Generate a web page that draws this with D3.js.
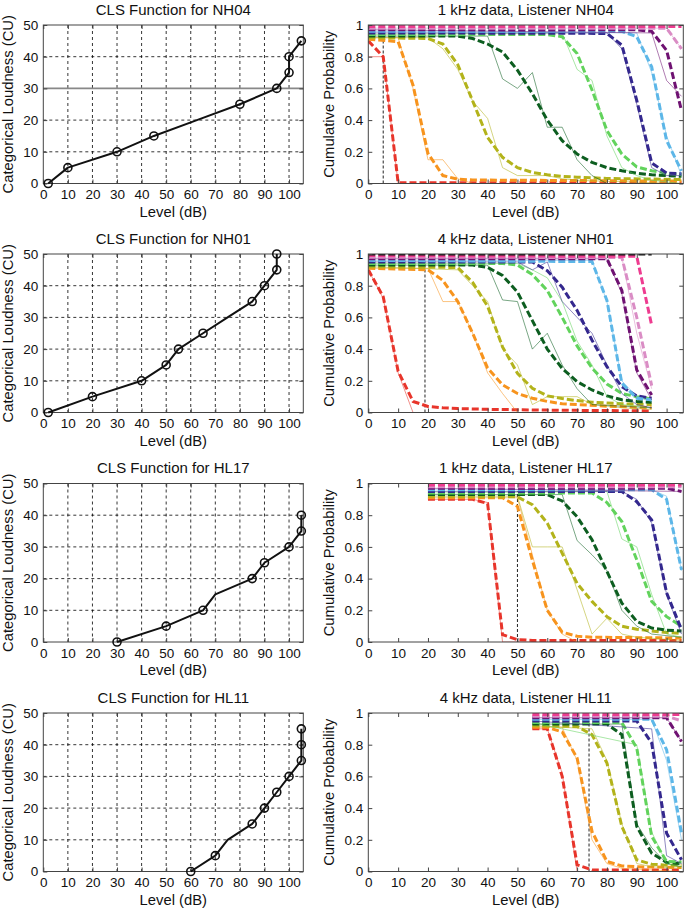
<!DOCTYPE html>
<html><head><meta charset="utf-8">
<script src="https://cdn.jsdelivr.net/npm/d3@7"></script>
<style>
body{margin:0;background:#fff}
svg{display:block}
text{font-family:"Liberation Sans",Arial,Helvetica,sans-serif;fill:#111}
</style>
</head><body><svg id="c" width="685" height="911"></svg>
<script>
// ---------- DATA ----------
const cuCategories = [0,5,10,15,20,25,30,35,40,45,50];
const catColors = ["#e8352b","#f7941e","#b3b31b","#0d5e20","#62d35c","#34288e","#5db7e8","#6f1272","#da8dc5","#ee3c90","#111111"];
const xTicksDb = [0,10,20,30,40,50,60,70,80,90,100];
const yTicksCU = [0,10,20,30,40,50];
const yTicksProb = [0,0.2,0.4,0.6,0.8,1];

const clsTitles = ["CLS Function for NH04","CLS Function for NH01","CLS Function for HL17","CLS Function for HL11"];
const probTitles = ["1 kHz data, Listener NH04","4 kHz data, Listener NH01","1 kHz data, Listener HL17","4 kHz data, Listener HL11"];

// CLS functions: [level dB, CU, marker(1/0)]
const clsNH04 = [[2,0,1],[10,5,1],[30,10,1],[45,15,1],[62.5,20,0],[80,25,1],[95,30,1],[100,35,1],[100,40,1],[105,45,1]];
const clsNH01 = [[2,0,1],[20,5,1],[40,10,1],[50,15,1],[55,20,1],[65,25,1],[75,30,0],[85,35,1],[90,40,1],[95,45,1],[95,50,1]];
const clsHL17 = [[30,0,1],[50,5,1],[65,10,1],[70,15,0],[85,20,1],[90,25,1],[100,30,1],[105,35,1],[105,40,1]];
const clsHL11 = [[60,0,1],[70,5,1],[75,10,0],[85,15,1],[90,20,1],[95,25,1],[100,30,1],[105,35,1],[105,40,1],[105,45,1]];

// vertical dashed marker level (dB)
const markerLevels = [5, 19, 50, 74];

// Model (dashed) cumulative probability curves, one per category: [level, p]
const fitNH04 = [
 [[0,0.9],[5,0.8],[10,0.005],[105,0.005]],
 [[0,0.91],[10,0.895],[15,0.62],[20,0.19],[25,0.05],[30,0.027],[35,0.022],[105,0.015]],
 [[0,0.92],[20,0.915],[25,0.88],[30,0.75],[35,0.52],[40,0.29],[45,0.165],[50,0.10],[55,0.07],[60,0.055],[65,0.045],[70,0.04],[80,0.032],[105,0.025]],
 [[0,0.93],[30,0.93],[35,0.915],[40,0.88],[45,0.83],[50,0.715],[55,0.567],[60,0.40],[65,0.27],[70,0.186],[75,0.133],[80,0.10],[85,0.08],[90,0.065],[95,0.055],[100,0.05],[105,0.045]],
 [[0,0.94],[60,0.94],[65,0.926],[70,0.82],[75,0.59],[80,0.334],[85,0.186],[90,0.105],[95,0.08],[100,0.065],[105,0.055]],
 [[0,0.95],[80,0.947],[85,0.873],[90,0.524],[95,0.13],[100,0.065],[105,0.062]],
 [[0,0.96],[85,0.96],[90,0.926],[95,0.736],[100,0.27],[105,0.08]],
 [[0,0.97],[90,0.97],[95,0.96],[100,0.84],[105,0.46]],
 [[0,0.98],[100,0.98],[105,0.85]],
 [[0,0.99],[105,0.99]],
 []
];
const rawNH04 = [
 [[0,0.8],[5,0.8],[10,0],[105,0]],
 [[0,0.92],[10,0.92],[15,0.6],[20,0.15],[25,0.15],[30,0.03],[35,0],[105,0]],
 [[0,0.92],[20,0.92],[25,0.85],[30,0.72],[35,0.52],[40,0.41],[45,0.1],[50,0.05],[60,0.05],[65,0.03],[70,0.02],[105,0]],
 [[0,0.93],[40,0.93],[45,0.66],[50,0.6],[55,0.7],[60,0.355],[65,0.355],[70,0.15],[75,0.05],[80,0],[105,0]],
 [[0,0.94],[65,0.95],[70,0.72],[75,0.65],[80,0.3],[85,0.1],[90,0.05],[95,0.02],[105,0]],
 [[0,0.95],[80,0.95],[85,0.85],[90,0.5],[95,0.1],[100,0.05],[105,0.05]],
 [[0,0.96],[90,0.95],[95,0.7],[100,0.3],[105,0.05]],
 [[0,0.97],[95,0.95],[100,0.65],[105,0.55]],
 [[0,0.98],[100,0.98],[105,0.85]],
 [], []
];

const fitNH01 = [
 [[0,0.9],[5,0.73],[10,0.26],[15,0.07],[20,0.038],[25,0.03],[30,0.025],[40,0.02],[60,0.015],[95,0.01]],
 [[0,0.91],[20,0.9],[25,0.833],[30,0.7],[35,0.5],[40,0.28],[45,0.175],[50,0.12],[55,0.09],[60,0.07],[65,0.055],[70,0.05],[80,0.04],[95,0.03]],
 [[0,0.92],[30,0.915],[35,0.82],[40,0.67],[45,0.414],[50,0.247],[55,0.153],[60,0.105],[65,0.088],[70,0.075],[75,0.065],[85,0.055],[95,0.05]],
 [[0,0.93],[35,0.93],[40,0.916],[45,0.864],[50,0.76],[55,0.58],[60,0.40],[65,0.278],[70,0.195],[75,0.142],[80,0.105],[85,0.08],[90,0.07],[95,0.065]],
 [[0,0.94],[45,0.94],[50,0.93],[55,0.87],[60,0.77],[65,0.6],[70,0.42],[75,0.28],[80,0.18],[85,0.12],[90,0.1],[95,0.085]],
 [[0,0.95],[55,0.95],[60,0.895],[65,0.79],[70,0.644],[75,0.456],[80,0.289],[85,0.163],[90,0.105],[95,0.09]],
 [[0,0.96],[75,0.952],[80,0.707],[85,0.184],[90,0.09],[95,0.08]],
 [[0,0.97],[80,0.97],[85,0.77],[90,0.268],[95,0.11]],
 [[0,0.98],[85,0.978],[90,0.6],[95,0.17]],
 [[0,0.99],[90,0.985],[95,0.55]],
 [[0,1.0],[95,1.0]]
];
const rawNH01 = [
 [[0,0.9],[5,0.72],[10,0.25],[15,0],[95,0]],
 [[0,0.91],[20,0.91],[25,0.7],[30,0.7],[35,0.5],[40,0.25],[45,0.12],[50,0],[95,0]],
 [[0,0.92],[30,0.9],[35,0.8],[40,0.7],[45,0.4],[50,0.3],[55,0.05],[60,0.1],[70,0.1],[75,0.05],[85,0.03],[95,0.02]],
 [[0,0.93],[40,0.93],[45,0.71],[50,0.7],[55,0.4],[60,0.5],[65,0.3],[70,0.15],[75,0.05],[95,0.03]],
 [[0,0.94],[50,0.94],[55,0.9],[60,0.85],[65,0.7],[70,0.45],[75,0.3],[80,0.1],[85,0.05],[95,0.03]],
 [[0,0.95],[50,0.95],[55,0.9],[60,0.95],[65,0.7],[70,0.6],[75,0.5],[80,0.3],[85,0.12],[90,0.05],[95,0.03]],
 [[0,0.96],[75,0.96],[80,0.7],[85,0.2],[90,0.1],[95,0.07]],
 [[0,0.97],[80,0.97],[85,0.75],[90,0.25],[95,0.08]],
 [[0,0.98],[85,0.98],[90,0.5],[95,0.15]],
 [], []
];

const fitHL17 = [
 [[20,0.9],[35,0.9],[40,0.874],[45,0.046],[50,0.015],[55,0.01],[105,0.01]],
 [[20,0.91],[45,0.91],[50,0.855],[55,0.516],[60,0.2],[65,0.062],[70,0.036],[75,0.03],[105,0.025]],
 [[20,0.92],[50,0.916],[55,0.866],[60,0.75],[65,0.56],[70,0.37],[75,0.256],[80,0.16],[85,0.1],[90,0.08],[95,0.07],[100,0.06],[105,0.055]],
 [[20,0.93],[60,0.93],[65,0.89],[70,0.79],[75,0.645],[80,0.445],[85,0.245],[90,0.13],[95,0.088],[100,0.075],[105,0.07]],
 [[20,0.94],[75,0.94],[80,0.88],[85,0.76],[90,0.518],[95,0.256],[100,0.16],[105,0.1]],
 [[20,0.95],[85,0.95],[90,0.885],[95,0.77],[100,0.31],[105,0.078]],
 [[20,0.96],[95,0.96],[100,0.9],[105,0.455]],
 [[20,0.97],[100,0.97],[105,0.95]],
 [[20,0.98],[105,0.98]],
 [[20,0.99],[105,0.99]],
 []
];
const rawHL17 = [
 [[20,0.9],[35,0.9],[40,0.88],[45,0],[105,0]],
 [[20,0.91],[50,0.91],[55,0.55],[60,0.2],[65,0.05],[70,0],[105,0]],
 [[20,0.92],[50,0.92],[55,0.6],[60,0.6],[65,0.6],[70,0.33],[75,0.05],[80,0.15],[85,0.05],[90,0.03],[105,0.01]],
 [[20,0.93],[65,0.93],[70,0.64],[75,0.55],[80,0.45],[85,0.2],[90,0.1],[95,0.05],[105,0.03]],
 [[20,0.94],[80,0.95],[85,0.65],[90,0.6],[95,0.3],[100,0.05],[105,0.03]],
 [[20,0.95],[85,0.95],[90,0.9],[95,0.75],[100,0.3],[105,0.05]],
 [[20,0.96],[95,0.96],[100,0.92],[105,0.45]],
 [[20,0.97],[105,0.95]],
 [], [], []
];

const fitHL11 = [
 [[55,0.9],[60,0.9],[65,0.6],[70,0.042],[75,0.01],[105,0.01]],
 [[55,0.91],[60,0.91],[65,0.88],[70,0.716],[75,0.253],[80,0.063],[85,0.035],[90,0.03],[105,0.025]],
 [[55,0.92],[70,0.915],[75,0.863],[80,0.684],[85,0.284],[90,0.074],[95,0.046],[100,0.04],[105,0.04]],
 [[55,0.93],[80,0.93],[85,0.863],[90,0.284],[95,0.116],[100,0.057],[105,0.05]],
 [[55,0.94],[85,0.94],[90,0.779],[95,0.221],[100,0.063],[105,0.06]],
 [[55,0.95],[90,0.95],[95,0.81],[100,0.242],[105,0.074]],
 [[55,0.96],[95,0.96],[100,0.768],[105,0.242]],
 [[55,0.97],[100,0.97],[105,0.82]],
 [[55,0.98],[100,0.98],[105,0.95]],
 [[55,0.99],[105,0.99]],
 []
];
const rawHL11 = [
 [[55,0.9],[60,0.9],[65,0.62],[70,0],[105,0]],
 [[55,0.91],[65,0.91],[70,0.7],[75,0.2],[80,0.05],[85,0.02],[105,0]],
 [[55,0.92],[75,0.9],[80,0.7],[85,0.3],[90,0.05],[95,0.03],[105,0.02]],
 [[55,0.93],[85,0.93],[90,0.3],[95,0.15],[100,0.05],[105,0.03]],
 [[55,0.94],[90,0.8],[95,0.25],[100,0.05],[105,0.03]],
 [[55,0.95],[95,0.9],[100,0.1],[105,0.05]],
 [[55,0.96],[95,0.96],[100,0.7],[105,0.2]],
 [[55,0.97],[100,0.97],[105,0.82]],
 [], [], []
];

const clsData = [clsNH04, clsNH01, clsHL17, clsHL11];
const fitData = [fitNH04, fitNH01, fitHL17, fitHL11];
const rawData = [rawNH04, rawNH01, rawHL17, rawHL11];

// ---------- LAYOUT ----------
const rowTops = [25, 254, 483.5, 713];
const rowH = 158.5;
const L0 = 43.3, L1 = 303.3, R0 = 368.3, R1 = 683.3;
const tickFont = 13.5, titleFont = 15, labelFont = 14.8;
const FONT = '"Liberation Sans",Arial,Helvetica,sans-serif';
const svg = d3.select("#c");

function drawAxes(g, x, y, yFmt) {
  const top = y.range()[1], bot = y.range()[0], l = x.range()[0], r = x.range()[1];
  const style = s => { s.select(".domain").remove(); s.attr("font-size", tickFont).attr("font-family", FONT);
    s.selectAll(".tick line").attr("stroke", "#444"); s.selectAll(".tick text").attr("fill", "#111"); };
  const yt = y.domain()[1] === 1 ? yTicksProb : yTicksCU;
  g.append("g").attr("transform", `translate(0,${bot})`)
    .call(d3.axisBottom(x).tickValues(xTicksDb).tickSizeInner(-4).tickSizeOuter(0).tickPadding(6).tickFormat(d3.format("d"))).call(style);
  g.append("g").attr("transform", `translate(0,${top})`)
    .call(d3.axisTop(x).tickValues(xTicksDb).tickSizeInner(-4).tickSizeOuter(0).tickFormat("")).call(style);
  g.append("g").attr("transform", `translate(${l},0)`)
    .call(d3.axisLeft(y).tickValues(yt).tickSizeInner(-4).tickSizeOuter(0).tickPadding(5).tickFormat(yFmt)).call(style);
  g.append("g").attr("transform", `translate(${r},0)`)
    .call(d3.axisRight(y).tickValues(yt).tickSizeInner(-4).tickSizeOuter(0).tickFormat("")).call(style);
  g.append("rect").attr("x", l).attr("y", top).attr("width", r - l).attr("height", bot - top)
    .attr("fill", "none").attr("stroke", "#444").attr("stroke-width", 1);
}

function labels(g, x, y, title, ylabel, ylx) {
  const top = y.range()[1], bot = y.range()[0], l = x.range()[0], r = x.range()[1];
  g.append("text").attr("x", (l + r) / 2).attr("y", top - 10.5).attr("text-anchor", "middle")
    .attr("font-size", titleFont).text(title);
  g.append("text").attr("x", (l + r) / 2).attr("y", bot + 33).attr("text-anchor", "middle")
    .attr("font-size", labelFont).text("Level (dB)");
  g.append("text").attr("transform", `translate(${ylx},${(top + bot) / 2}) rotate(-90)`).attr("text-anchor", "middle")
    .attr("font-size", labelFont).text(ylabel);
}

rowTops.forEach((top, i) => {
  const bot = top + rowH;
  // ---- left: CLS function ----
  const gl = svg.append("g");
  const xL = d3.scaleLinear().domain([0, 105.8]).range([L0, L1]);
  const yL = d3.scaleLinear().domain([0, 50]).range([bot, top]);
  const grid = gl.append("g").attr("stroke", "#000").attr("stroke-width", 0.8).attr("stroke-dasharray", "3,3");
  xTicksDb.filter(d => d > 0).forEach(d => grid.append("line").attr("x1", xL(d)).attr("x2", xL(d)).attr("y1", top).attr("y2", bot));
  yTicksCU.filter(d => d > 0 && d < 50).forEach(d => {
    if (i === 0 && d === 30) return;
    grid.append("line").attr("x1", L0).attr("x2", L1).attr("y1", yL(d)).attr("y2", yL(d));
  });
  if (i === 0) gl.append("line").attr("x1", L0).attr("x2", L1).attr("y1", yL(30)).attr("y2", yL(30))
    .attr("stroke", "#888").attr("stroke-width", 1.6);
  drawAxes(gl, xL, yL, d3.format("d"));
  const cls = clsData[i];
  gl.append("path").datum(cls).attr("fill", "none").attr("stroke", "#111").attr("stroke-width", 2)
    .attr("stroke-linejoin", "round")
    .attr("d", d3.line().x(d => xL(d[0])).y(d => yL(d[1])));
  gl.selectAll(null).data(cls.filter(d => d[2] === 1)).join("circle")
    .attr("cx", d => xL(d[0])).attr("cy", d => yL(d[1])).attr("r", 4)
    .attr("fill", "none").attr("stroke", "#111").attr("stroke-width", 1.6);
  labels(gl, xL, yL, clsTitles[i], "Categorical Loudness (CU)", 13);

  // ---- right: cumulative probability ----
  const gr = svg.append("g");
  const xR = d3.scaleLinear().domain([0, 105.6]).range([R0, R1]);
  const yR = d3.scaleLinear().domain([0, 1]).range([bot, top]);
  const cid = "clip" + i;
  gr.append("clipPath").attr("id", cid).append("rect").attr("x", R0).attr("y", top).attr("width", R1 - R0).attr("height", rowH);
  const plot = gr.append("g").attr("clip-path", `url(#${cid})`);
  plot.append("line").attr("x1", xR(markerLevels[i])).attr("x2", xR(markerLevels[i]))
    .attr("y1", yR(0)).attr("y2", yR(0.95)).attr("stroke", "#222").attr("stroke-width", 1).attr("stroke-dasharray", "3,2");
  const line = d3.line().x(d => xR(d[0])).y(d => yR(d[1]));
  cuCategories.forEach((c, k) => {
    const f = fitData[i][k], r = rawData[i][k];
    if (f && f.length) plot.append("path").datum(f).attr("fill", "none").attr("stroke", catColors[k])
      .attr("stroke-width", 3).attr("stroke-dasharray", "7,3").attr("d", line);
    if (r && r.length) plot.append("path").datum(r).attr("fill", "none").attr("stroke", catColors[k])
      .attr("stroke-width", 1).attr("stroke-opacity", 0.55).attr("d", line);
  });
  drawAxes(gr, xR, yR, d => d === 0 ? "0" : d === 1 ? "1" : d3.format(".1f")(d));
  labels(gr, xR, yR, probTitles[i], "Cumulative Probability", 334);
});
</script></body></html>
